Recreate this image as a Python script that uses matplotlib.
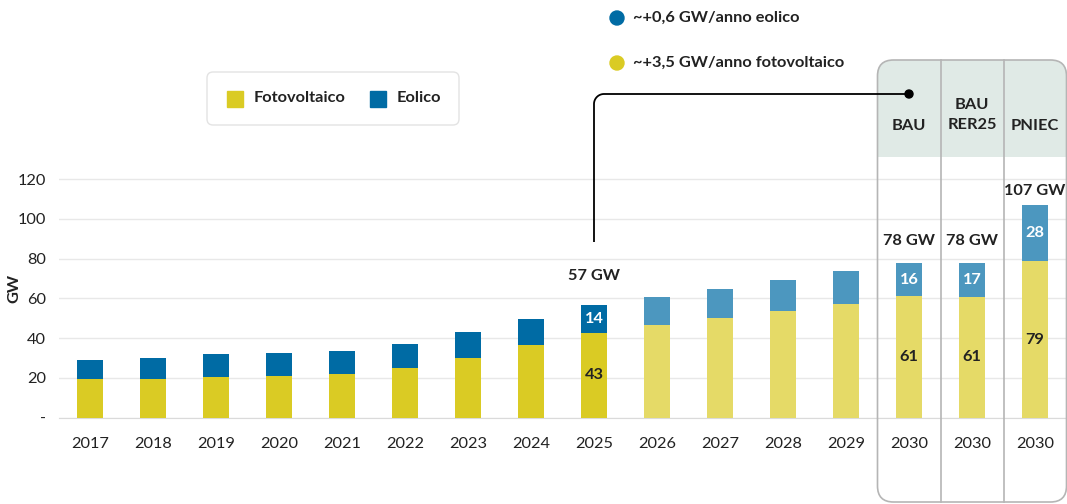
import matplotlib.pyplot as plt
import numpy as np
from matplotlib.patches import FancyBboxPatch, Rectangle, Circle

plt.rcParams["font.family"] = ["Lato", "DejaVu Sans"]

# installed capacity, GW
years = ["2017", "2018", "2019", "2020", "2021", "2022", "2023", "2024",
         "2025", "2026", "2027", "2028", "2029", "2030", "2030", "2030"]
solar = [19.4, 19.4, 20.4, 21.0, 22.0, 25.0, 30.0, 36.6,
         42.8, 46.8, 50.3, 53.6, 57.2, 61.2, 60.8, 78.6]
wind = [9.6, 10.7, 11.6, 11.5, 11.5, 12.1, 13.1, 13.0,
        14.0, 13.8, 14.3, 15.5, 16.4, 16.4, 16.9, 28.2]
scenarios = ["BAU", "BAU\nRER25", "PNIEC"]
labelled = [8, 13, 14, 15]
last_actual = 8

SOLAR = "#DACB24"
WIND = "#006BA4"
SOLAR_L = "#E5DA67"
WIND_L = "#4C97BF"
TXT = "#222222"
FS = 11.8

W, H = 1067, 504
fig = plt.figure(figsize=(W / 100, H / 100), dpi=100)

# main axes placed in pixels: x 58.5..1066.5, y(0)=417.7, 1.989 px per GW
px_per_gw = 1.989
y0_px = 417.7
top_px = 160
ax = fig.add_axes([58.5 / W, (H - y0_px) / H, 1008 / W, (y0_px - top_px) / H])
ax.set_xlim(-0.5, len(years) - 0.5)
ax.set_ylim(0, (y0_px - top_px) / px_per_gw)

x = np.arange(len(years))
s_col = [SOLAR if i <= last_actual else SOLAR_L for i in x]
w_col = [WIND if i <= last_actual else WIND_L for i in x]
ax.bar(x, solar, width=0.41, color=s_col, zorder=3)
ax.bar(x, wind, width=0.41, bottom=solar, color=w_col, zorder=3)

total_offset = {8: 29, 13: 22, 14: 22, 15: 14}
for i in labelled:
    ax.text(i, solar[i] / 2, f"{solar[i]:.0f}", ha="center", va="center",
            fontsize=FS, fontweight="bold", color=TXT, zorder=4)
    ax.text(i, solar[i] + wind[i] / 2, f"{wind[i]:.0f}", ha="center", va="center",
            fontsize=FS, fontweight="bold", color="white", zorder=4)
    tot = solar[i] + wind[i]
    ax.annotate(f"{tot:.0f} GW", (i, tot), xytext=(0, total_offset[i] * 0.72),
                textcoords="offset points", ha="center", va="center",
                fontsize=FS, fontweight="bold", color=TXT)

ax.set_yticks(range(0, 121, 20))
ax.set_yticklabels(["-"] + [str(v) for v in range(20, 121, 20)])
ax.set_xticks(x)
ax.set_xticklabels(years)
ax.tick_params(axis="both", length=0, labelsize=FS, colors=TXT)
ax.tick_params(axis="x", pad=14)
ax.tick_params(axis="y", pad=9)
ax.grid(axis="y", color="#E8E8E8", lw=1, zorder=0)
for s in ["top", "right", "left"]:
    ax.spines[s].set_visible(False)
ax.spines["bottom"].set_color("#DADADA")
ax.patch.set_visible(False)

# overlay in pixel coordinates (y from top) for legend, notes and scenario box
ov = fig.add_axes([0, 0, 1, 1], zorder=5)
ov.set_xlim(0, W)
ov.set_ylim(H, 0)
ov.axis("off")
ov.patch.set_visible(False)

ov.text(14, 288, "GW", rotation=90, ha="center", va="center",
        fontsize=FS, fontweight="bold", color=TXT)


def px_x(i):
    return ax.transData.transform((i, 0))[0]


# legend box
ov.add_patch(FancyBboxPatch((207, 72), 252, 53, boxstyle="round,pad=0,rounding_size=6",
                            fc="white", ec="#E3E3E3", lw=1))
for sx, col, lab in [(227, SOLAR, "Fotovoltaico"), (370, WIND, "Eolico")]:
    ov.add_patch(Rectangle((sx, 91), 16, 16, color=col))
    ov.text(sx + 27, 98, lab, ha="left", va="center", fontsize=FS,
            fontweight="bold", color=TXT)

# yearly growth notes
for cy, col, lab in [(18, WIND, "~+0,6 GW/anno eolico"),
                     (63, SOLAR, "~+3,5 GW/anno fotovoltaico")]:
    ov.add_patch(Circle((617, cy), 7, color=col))
    ov.text(633, cy, lab, ha="left", va="center", fontsize=FS,
            fontweight="bold", color=TXT)

# scenario box
bx0 = px_x(len(years) - 3.5)
bx1 = px_x(len(years) - 0.5)
by0, by1, hy = 60, 502, 157
header = FancyBboxPatch((bx0, by0), bx1 - bx0, 120, boxstyle="round,pad=0,rounding_size=16",
                        fc="#E0EAE6", ec="none")
ov.add_patch(header)
header.set_clip_path(Rectangle((bx0, by0), bx1 - bx0, hy - by0, transform=ov.transData))
ov.add_patch(FancyBboxPatch((bx0, by0), bx1 - bx0, by1 - by0,
                            boxstyle="round,pad=0,rounding_size=16",
                            fc="none", ec="#B5B5B5", lw=1.2))
for k in range(1, 3):
    xs = px_x(len(years) - 3.5 + k)
    ov.plot([xs, xs], [by0, by1], color="#B5B5B5", lw=1.2)
for k, lab in enumerate(scenarios):
    ov.text(px_x(len(years) - 3 + k), 126 if "\n" not in lab else 115, lab,
            ha="center", va="center", fontsize=FS, fontweight="bold",
            color=TXT, linespacing=1.6)

# connector from the 2025 bar to the BAU column
cx = px_x(last_actual)
ex = px_x(len(years) - 3)
ly, r = 94, 10
ang = np.linspace(np.pi, 1.5 * np.pi, 20)
arc_x = cx + r + r * np.cos(ang)
arc_y = ly + r + r * np.sin(ang)
ov.plot(np.r_[cx, arc_x, ex], np.r_[242, arc_y, ly], color="black", lw=1.3,
        solid_capstyle="butt")
ov.add_patch(Circle((ex, ly), 4, color="black"))

fig.savefig("out.png", dpi=100)
